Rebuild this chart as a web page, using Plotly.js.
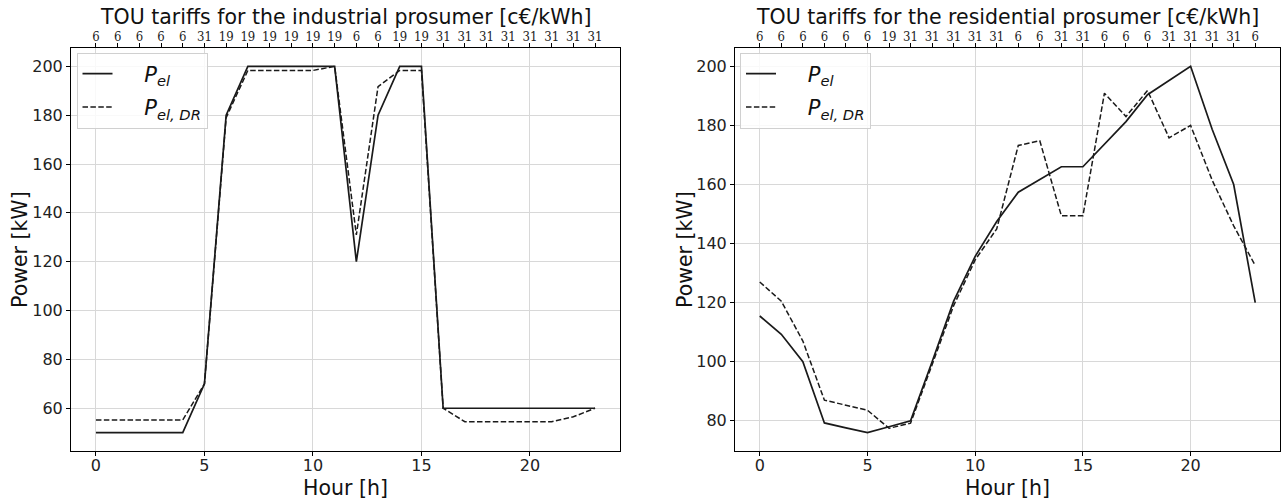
<!DOCTYPE html>
<html>
<head>
<meta charset="utf-8">
<script src="https://cdn.plot.ly/plotly-3.0.1.min.js"></script>
<style>html,body{margin:0;padding:0;background:#fff;}#chart{width:1284px;height:502px;}</style>
</head>
<body>
<div id="chart"></div>
<script>
const hours = [0,1,2,3,4,5,6,7,8,9,10,11,12,13,14,15,16,17,18,19,20,21,22,23];

// Industrial prosumer
const indPel   = [50,50,50,50,50,70,180,200,200,200,200,200,120,180,200,200,60,60,60,60,60,60,60,60];
const indPelDR = [55.2,55.2,55.2,55.2,55.2,70,179,198.3,198.3,198.3,198.3,200,131,191.7,198.3,198.3,60,54.5,54.5,54.5,54.5,54.5,56.5,60];
const indTariff = ['6','6','6','6','6','31','19','19','19','19','19','19','6','6','19','19','31','31','31','31','31','31','31','31'];

// Residential prosumer
const resPel   = [115.5,109.3,100,79.3,77.6,76,78,80,100,120.5,135.7,147.5,157.4,161.7,166,166,173.5,181.3,190.4,195.2,200,178.7,160,120];
const resPelDR = [127,120.5,107,87,85.3,83.6,77.5,79.2,99,119,134.5,145,173.2,174.8,149.4,149.4,190.9,183,191.8,175.8,180,161.5,146,132.6];
const resTariff = ['6','6','6','6','6','6','19','31','31','31','31','31','6','6','31','31','6','6','6','31','31','31','31','6'];

const xTicks = [0,5,10,15,20];
const indYTicks = [60,80,100,120,140,160,180,200];
const resYTicks = [80,100,120,140,160,180,200];

const pad = '\u00a0\u00a0\u00a0\u00a0';
const nameEl = pad + '<i>P</i><sub><i>el</i></sub>';
const nameDR = pad + '<i>P</i><sub><i>el, DR</i></sub>';

const W = 1284, H = 502;
const px = v => v / W;
const py = v => 1 - v / H;

const lineCol = '#1a1a1a';
const gridCol = '#d8d8d8';
const font = 'DejaVu Sans, sans-serif';

const traces = [
  {x: hours, y: indPel, xaxis: 'x', yaxis: 'y', mode: 'lines', name: nameEl, legend: 'legend', legendgroup: 'a',
   line: {color: lineCol, width: 1.7}},
  {x: hours, y: indPelDR, xaxis: 'x', yaxis: 'y', mode: 'lines', name: nameDR, legend: 'legend', legendgroup: 'b',
   line: {color: lineCol, width: 1.5, dash: '5.5px,2.4px'}},
  {x: hours, y: indPel, xaxis: 'x3', yaxis: 'y', mode: 'lines', showlegend: false, hoverinfo: 'skip',
   line: {color: 'rgba(0,0,0,0)', width: 0}},
  {x: hours, y: resPel, xaxis: 'x2', yaxis: 'y2', mode: 'lines', name: nameEl, legend: 'legend2', legendgroup: 'c',
   line: {color: lineCol, width: 1.7}},
  {x: hours, y: resPelDR, xaxis: 'x2', yaxis: 'y2', mode: 'lines', name: nameDR, legend: 'legend2', legendgroup: 'd',
   line: {color: lineCol, width: 1.5, dash: '5.5px,2.4px'}},
  {x: hours, y: resPel, xaxis: 'x4', yaxis: 'y2', mode: 'lines', showlegend: false, hoverinfo: 'skip',
   line: {color: 'rgba(0,0,0,0)', width: 0}}
];

const xRange = [-1.15, 24.15];
const indYRange = [42.5, 207.5];
const resYRange = [69.8, 206.2];

const dom1 = [px(71), px(620)];
const dom2 = [px(735), px(1280)];
const yDom = [py(451), py(48)];

function bottomX(domain, anchor) {
  return {domain: domain, anchor: anchor, range: xRange, tickvals: xTicks,
    ticks: 'outside', ticklen: 4, tickwidth: 1, tickcolor: '#000', ticklabelstandoff: -4,
    showline: true, linecolor: '#000', linewidth: 1, mirror: true,
    showgrid: true, gridcolor: gridCol, gridwidth: 1, zeroline: false,
    tickfont: {family: font, size: 16, color: '#222'}};
}
function topX(over, anchor, text) {
  return {overlaying: over, anchor: anchor, side: 'top', range: xRange,
    tickvals: hours, ticktext: text, ticks: 'outside', ticklen: 4, tickwidth: 1, tickcolor: '#000',
    ticklabelstandoff: -3,
    showline: false, showgrid: false, zeroline: false,
    tickfont: {family: 'DejaVu Serif Condensed, DejaVu Serif, serif', size: 13, color: '#222'}};
}
function leftY(anchor, range, ticks) {
  return {domain: yDom, anchor: anchor, range: range, tickvals: ticks,
    ticks: 'outside', ticklen: 4, tickwidth: 1, tickcolor: '#000',
    showline: true, linecolor: '#000', linewidth: 1, mirror: true,
    showgrid: true, gridcolor: gridCol, gridwidth: 1, zeroline: false,
    tickfont: {family: font, size: 16, color: '#222'}};
}

const legendBase = {
  xref: 'paper', yref: 'paper', xanchor: 'left', yanchor: 'top',
  bgcolor: 'rgba(255,255,255,0.85)', bordercolor: '#d0d0d0', borderwidth: 1,
  font: {family: font, size: 21, color: '#111'}, tracegroupgap: 3, itemwidth: 30
};

const tf = {family: font, size: 20.5, color: '#111'};

const layout = {
  width: W, height: H,
  margin: {l: 0, r: 0, t: 0, b: 0},
  paper_bgcolor: '#fff', plot_bgcolor: '#fff',
  font: {family: font, color: '#111'},
  xaxis: bottomX(dom1, 'y'),
  xaxis2: bottomX(dom2, 'y2'),
  xaxis3: topX('x', 'y', indTariff),
  xaxis4: topX('x2', 'y2', resTariff),
  yaxis: leftY('x', indYRange, indYTicks),
  yaxis2: leftY('x2', resYRange, resYTicks),
  legend: Object.assign({}, legendBase, {x: px(76.5), y: py(52.5)}),
  legend2: Object.assign({}, legendBase, {x: px(740), y: py(52.5)}),
  annotations: [
    {text: 'TOU tariffs for the industrial prosumer [c€/kWh]', xref: 'paper', yref: 'paper',
     x: px(345.5), y: py(17), xanchor: 'center', yanchor: 'middle', showarrow: false, font: tf},
    {text: 'TOU tariffs for the residential prosumer [c€/kWh]', xref: 'paper', yref: 'paper',
     x: px(1007.5), y: py(17), xanchor: 'center', yanchor: 'middle', showarrow: false, font: tf},
    {text: 'Hour [h]', xref: 'paper', yref: 'paper', x: px(345.5), y: py(488),
     xanchor: 'center', yanchor: 'middle', showarrow: false, font: tf},
    {text: 'Hour [h]', xref: 'paper', yref: 'paper', x: px(1007.5), y: py(488),
     xanchor: 'center', yanchor: 'middle', showarrow: false, font: tf},
    {text: 'Power [kW]', xref: 'paper', yref: 'paper', x: px(20), y: py(250), textangle: -90,
     xanchor: 'center', yanchor: 'middle', showarrow: false, font: tf},
    {text: 'Power [kW]', xref: 'paper', yref: 'paper', x: px(685), y: py(250), textangle: -90,
     xanchor: 'center', yanchor: 'middle', showarrow: false, font: tf}
  ]
};

Plotly.newPlot('chart', traces, layout, {displayModeBar: false, staticPlot: true});
</script>
</body>
</html>
